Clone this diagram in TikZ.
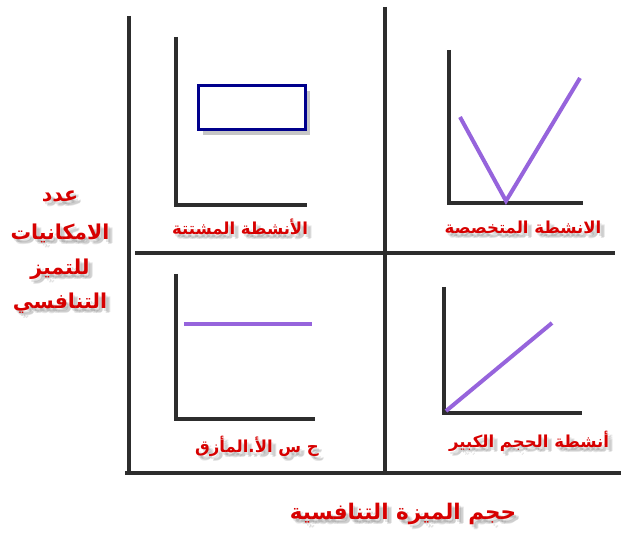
\documentclass[tikz,border=0pt]{standalone}
\usepackage{fontspec}
\usetikzlibrary{shadows}
\TeXXeTstate=1
\newfontfamily\arabicfont[Script=Arabic]{DejaVu Sans}
\definecolor{axisgray}{RGB}{45,45,45}
\definecolor{lineviolet}{RGB}{150,100,220}
\definecolor{labelred}{RGB}{215,0,0}
\definecolor{boxnavy}{RGB}{0,0,140}
\tikzset{
  axisline/.style={line width=4pt, draw=axisgray},
  miniaxis/.style={line width=4pt, draw=axisgray},
  violetline/.style={line width=4pt, draw=lineviolet},
  lblfont/.style={font=\arabicfont\bfseries\fontsize{16.5}{19}\selectfont},
  bigfont/.style={font=\arabicfont\bfseries\fontsize{21.5}{25}\selectfont},
  sidefont/.style={font=\arabicfont\bfseries\fontsize{20.5}{24}\selectfont},
  lbl/.style={text=labelred, inner sep=0pt},
  shd/.style={text=black, text opacity=0.10, inner sep=0pt}
}
\newcommand{\shadowtext}[4]{%
  \foreach \dx/\dy in {2/3,4/5,5/4} {
    \node[shd,#4] at ([xshift=\dx pt,yshift=-\dy pt]#1) {#3};
  }
  \node[lbl,#4] (#2) at (#1) {#3};
}
\begin{document}
\begin{tikzpicture}[x=1pt,y=-1pt]
\useasboundingbox (0,0) rectangle (623,534);
% main frame
\draw[axisline] (129,16) -- (129,473);
\draw[axisline] (385,7) -- (385,473);
\draw[axisline] (125,473) -- (621,473);
\draw[axisline] (135,253) -- (615,253);
% top-left chart
\draw[miniaxis] (176,37) -- (176,205) -- (307,205);
\node[draw=boxnavy, line width=3pt, fill=white, minimum width=107pt, minimum height=44pt,
  drop shadow={shadow xshift=4pt, shadow yshift=-5pt, opacity=0.45, fill=gray}] (box) at (252,108) {};
% top-right chart
\draw[miniaxis] (449,50) -- (449,203) -- (583,203);
\draw[violetline] (460,117) -- (506,201) -- (580,78);
% bottom-left chart
\draw[miniaxis] (176,274) -- (176,419) -- (315,419);
\draw[violetline] (184,324) -- (312,324);
% bottom-right chart
\draw[miniaxis] (444,287) -- (444,413) -- (582,413);
\draw[violetline] (446,411) -- (552,323);
% labels
\coordinate (p1) at (240,227);
\coordinate (p2) at (523,227);
\coordinate (p3) at (257,446);
\coordinate (p4) at (529,441);
\coordinate (p5) at (403,514);
\coordinate (s1) at (60,196);
\coordinate (s2) at (60,233);
\coordinate (s3) at (60,269);
\coordinate (s4) at (60,303);
\shadowtext{p1}{t1}{\beginR الأنشطة المشتتة\endR}{lblfont}
\shadowtext{p2}{t2}{\beginR الانشطة المتخصصة\endR}{lblfont}
\shadowtext{p3}{t3}{\beginR ح س الأ.المأزق\endR}{lblfont}
\shadowtext{p4}{t4}{\beginR أنشطة الحجم الكبير\endR}{lblfont}
\shadowtext{p5}{t5}{\beginR حجم الميزة التنافسية\endR}{bigfont}
\shadowtext{s1}{u1}{\beginR عدد\endR}{sidefont}
\shadowtext{s2}{u2}{\beginR الامكانيات\endR}{sidefont}
\shadowtext{s3}{u3}{\beginR للتميز\endR}{sidefont}
\shadowtext{s4}{u4}{\beginR التنافسي\endR}{sidefont}
\end{tikzpicture}
\end{document}
